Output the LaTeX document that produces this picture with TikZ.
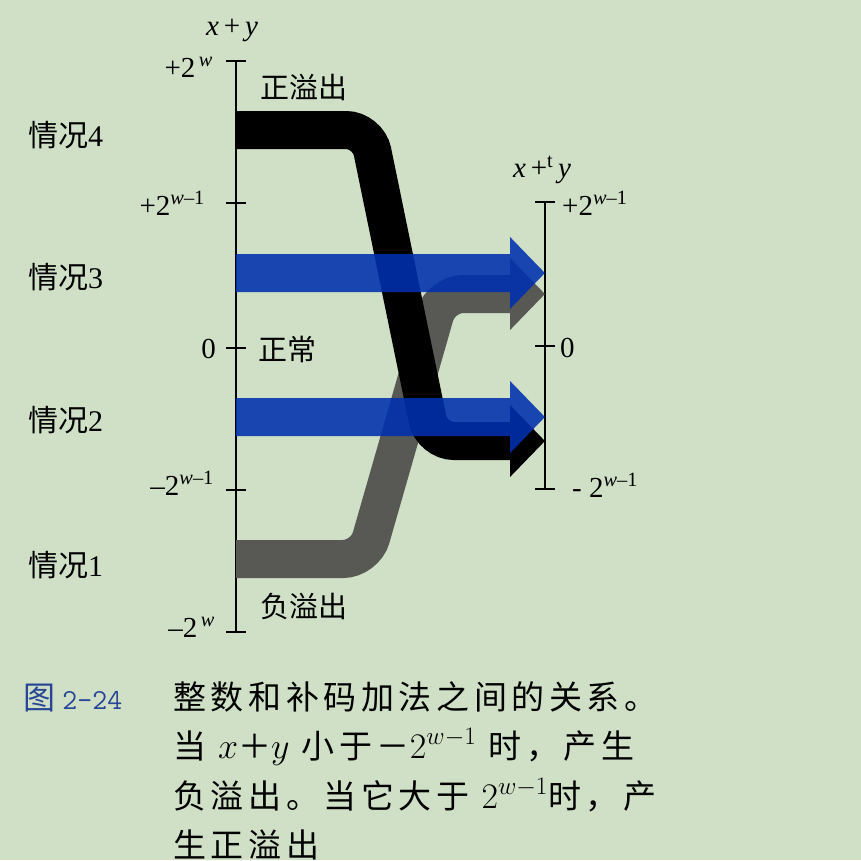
\RequirePackage{fix-cm}
\documentclass[tikz,border=0pt]{standalone}
\usepackage{fontspec}
\setmainfont{Liberation Serif}
\newfontfamily\cjk{Noto Sans CJK SC}
\newfontfamily\cjkcap[LetterSpace=14]{Noto Sans CJK SC}
\usetikzlibrary{arrows.meta}

\definecolor{paper}{RGB}{207,224,198}
\definecolor{bandblue}{RGB}{0,48,175}
\definecolor{bandgray}{RGB}{88,88,84}
\definecolor{figblue}{RGB}{40,70,150}

\newcommand\capmath[1]{{\fontsize{36}{36}\selectfont$#1$}}

\begin{document}
\begin{tikzpicture}[x=1pt,y=-1pt,
    band/.style={line width=38pt,rounded corners=22pt,
      -{Triangle[length=35pt,width=70pt]}},
    axis/.style={line width=1.8pt},
    val/.style={inner sep=0pt,font=\fontsize{29}{32}\selectfont},
    zone/.style={inner sep=0pt,anchor=base west,font=\cjk\fontsize{29}{32}\selectfont},
    caseno/.style={inner sep=0pt,anchor=base west,font=\fontsize{30}{33}\selectfont},
    capline/.style={inner sep=0pt,anchor=base west,font=\cjkcap\fontsize{33}{36}\selectfont}]
	\fill[paper] (0,0) rectangle (861,860);
	\useasboundingbox (0,0) rectangle (861,860);

	% axes
	\coordinate (Ltop) at (236,61);
	\coordinate (Lbot) at (236,632);
	\coordinate (Rtop) at (545,202);
	\coordinate (Rbot) at (545,489);
	\draw[axis] (Ltop) -- (Lbot);
	\draw[axis] (Rtop) -- (Rbot);
	\foreach \y in {61,203,348,490,632} \draw[axis] (226,\y) -- (246,\y);
	\foreach \y in {202,346,489} \draw[axis] (535,\y) -- (555,\y);

	% bands
	\coordinate (L1) at (236,559);
	\coordinate (L2) at (236,417);
	\coordinate (L3) at (236,273);
	\coordinate (L4) at (236,130);
	\coordinate (R1) at (545,294);
	\coordinate (R2) at (545,417);
	\coordinate (R3) at (545,273);
	\coordinate (R4) at (545,441);
	\draw[band,bandgray] (L1) -- (365,559) -- (441,294) -- (R1);
	\draw[band,black] (L4) -- (368,130) -- (432,441) -- (R4);
	\begin{scope}[transparency group,opacity=0.88]
	\draw[band,bandblue] (L3) -- (R3);
	\draw[band,bandblue] (L2) -- (R2);
	\end{scope}

	% axis labels
	\node[val] (sumL) at (232,30) {\textit{x}\,+\,\textit{y}};
	\node[val] (sumR) at (542,170) {\textit{x}\,+\textsuperscript{t}\,\textit{y}};
	\node[val,anchor=base east] (lpw) at (213,77) {+2\textsuperscript{\,\textit{w}}};
	\node[val,anchor=base east] (lpw1) at (205,215) {+2\textsuperscript{\textit{w}–1}};
	\node[val,anchor=base east] (lz) at (216,358) {0};
	\node[val,anchor=base east] (lnw1) at (214,495) {–2\textsuperscript{\textit{w}–1}};
	\node[val,anchor=base east] (lnw) at (215,637) {–2\textsuperscript{\,\textit{w}}};
	\node[val,anchor=base west] (rpw1) at (562,215) {+2\textsuperscript{\textit{w}–1}};
	\node[val,anchor=base west] (rz) at (560,357) {0};
	\node[val,anchor=base west] (rnw1) at (572,497) {- 2\textsuperscript{\textit{w}–1}};

	% zones and cases
	\node[zone] (pos) at (260,98) {正溢出};
	\node[zone] (norm) at (258,360) {正常};
	\node[zone] (neg) at (260,617) {负溢出};
	\node[caseno] (c4) at (28,146) {{\cjk 情况}4};
	\node[caseno] (c3) at (28,288) {{\cjk 情况}3};
	\node[caseno] (c2) at (28,431) {{\cjk 情况}2};
	\node[caseno] (c1) at (28,576) {{\cjk 情况}1};

	% caption
	\node[inner sep=0pt,anchor=base west,figblue,font=\fontsize{29}{32}\selectfont] (fig) at (23,709) {{\cjk\fontsize{32}{34}\selectfont 图}\ \ttfamily 2-24};
	\node[capline] (cap1) at (173,709) {整数和补码加法之间的关系。};
	\node[capline] (cap2) at (173,758) {当 \capmath{x}＋\capmath{y} 小于－\capmath{2^{w-1}} 时，产生};
	\node[capline] (cap3) at (173,808) {负溢出。当它大于 \capmath{2^{w-1}}时，产};
	\node[capline] (cap4) at (173,857) {生正溢出};
\end{tikzpicture}
\end{document}
